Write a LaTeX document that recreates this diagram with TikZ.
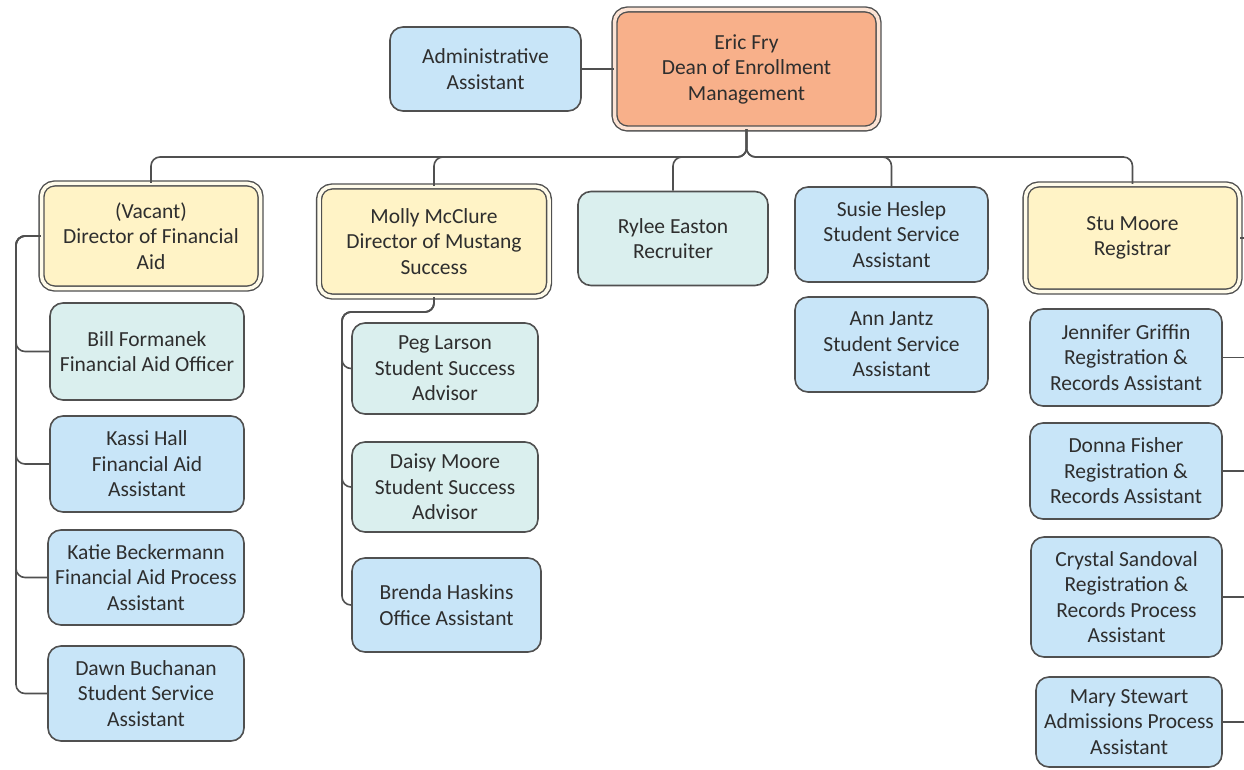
\documentclass[tikz,border=0pt]{standalone}
\usepackage{fontspec}
\setmainfont{Carlito}
\usetikzlibrary{positioning}
\definecolor{bord}{HTML}{505050}
\definecolor{salmon}{HTML}{F8B08A}
\definecolor{salmongap}{HTML}{FCE3D4}
\definecolor{yel}{HTML}{FFF3C6}
\definecolor{yelgap}{HTML}{FFFBEA}
\definecolor{mint}{HTML}{DAEFEE}
\definecolor{blu}{HTML}{C8E5F8}
\definecolor{txt}{HTML}{2E2E2E}
\begin{document}
\begin{tikzpicture}[x=1pt,y=-1pt,
  box/.style={draw=bord, line width=1.6pt, rounded corners=13pt, align=center,
    inner sep=0pt, text=txt, font=\fontsize{21.5}{25.5}\selectfont},
  bluebox/.style={box, fill=blu},
  mintbox/.style={box, fill=mint},
  yelbox/.style={box, fill=yel, double=yelgap, double distance=3.5pt, line width=1.4pt},
  deanbox/.style={box, fill=salmon, double=salmongap, double distance=3.5pt, line width=1.4pt},
  conn/.style={draw=bord, line width=1.6pt, rounded corners=9pt}]
\useasboundingbox (0,0) rectangle (1244,770);
\coordinate (redge) at (1244,0);
% top
\node[deanbox, minimum width=264pt, minimum height=119pt] (dean) at (746.5,69) {Eric Fry\\Dean of Enrollment\\Management};
\node[bluebox, minimum width=191pt, minimum height=84pt] (admin) at (485.5,69) {Administrative\\Assistant};
% second level
\node[yelbox, minimum width=219pt, minimum height=105pt] (vac) at (151,236) {(Vacant)\\Director of Financial\\Aid};
\node[yelbox, minimum width=230pt, minimum height=110pt] (molly) at (434,241.5) {Molly McClure\\Director of Mustang\\Success};
\node[mintbox, minimum width=190pt, minimum height=94pt] (rylee) at (673,238.5) {Rylee Easton\\Recruiter};
\node[bluebox, minimum width=193pt, minimum height=95pt] (susie) at (891.5,234.5) {Susie Heslep\\Student Service\\Assistant};
\node[yelbox, minimum width=214pt, minimum height=107pt] (stu) at (1132.5,238) {Stu Moore\\Registrar};
% financial aid
\node[mintbox, minimum width=194pt, minimum height=97pt] (bill) at (147,351.5) {Bill Formanek\\Financial Aid Officer};
\node[bluebox, minimum width=194pt, minimum height=96pt] (kassi) at (147,464) {Kassi Hall\\Financial Aid\\Assistant};
\node[bluebox, minimum width=196pt, minimum height=95pt] (katie) at (146,577.5) {Katie Beckermann\\Financial Aid Process\\Assistant};
\node[bluebox, minimum width=196pt, minimum height=95pt] (dawn) at (146,693.5) {Dawn Buchanan\\Student Service\\Assistant};
% mustang success
\node[mintbox, minimum width=186pt, minimum height=91pt] (peg) at (445,368.5) {Peg Larson\\Student Success\\Advisor};
\node[mintbox, minimum width=186pt, minimum height=90pt] (daisy) at (445,487) {Daisy Moore\\Student Success\\Advisor};
\node[bluebox, minimum width=189pt, minimum height=94pt] (brenda) at (446.5,605) {Brenda Haskins\\Office Assistant};
% student service
\node[bluebox, minimum width=193pt, minimum height=95pt] (ann) at (891.5,344.5) {Ann Jantz\\Student Service\\Assistant};
% registrar
\node[bluebox, minimum width=192pt, minimum height=97pt] (jen) at (1126,357.5) {Jennifer Griffin\\Registration \&\\Records Assistant};
\node[bluebox, minimum width=192pt, minimum height=96pt] (donna) at (1126,471) {Donna Fisher\\Registration \&\\Records Assistant};
\node[bluebox, minimum width=191pt, minimum height=120pt] (crystal) at (1126.5,597) {Crystal Sandoval\\Registration \&\\Records Process\\Assistant};
\node[bluebox, minimum width=186pt, minimum height=90pt] (mary) at (1129,722) {Mary Stewart\\Admissions Process\\Assistant};
% connectors
\draw[conn] (admin.east) -- (dean.west);
\foreach \c in {vac,molly,rylee,susie,stu}
  \draw[conn] (dean.south) -- (dean.south |- 0,157) -| (\c.north);
\foreach \c in {bill,kassi,katie,dawn}
  \draw[conn] (vac.west) -- (16,236) |- (\c.west);
\foreach \c in {peg,daisy,brenda}
  \draw[conn] (molly.south) -- (434,312) -- (342,312) |- (\c.west);
\foreach \c in {stu,jen,donna,crystal,mary}
  \draw[conn] (\c.east) -- (\c.east -| redge);
\end{tikzpicture}
\end{document}
